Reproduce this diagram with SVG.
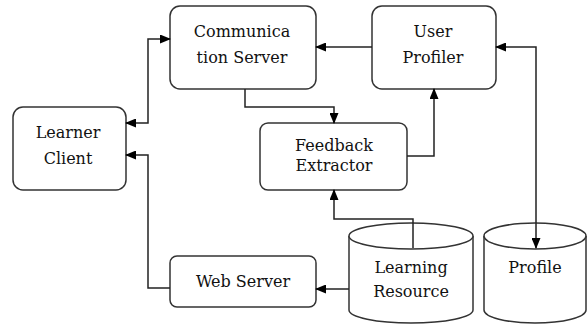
<svg xmlns="http://www.w3.org/2000/svg" width="587" height="325" viewBox="0 0 587 325">
<style>
.box{fill:#fff;stroke:#333;stroke-width:1.5}
.cyl{fill:#fff;stroke:#333;stroke-width:1.5}
.t{font-family:"DejaVu Serif","Liberation Serif",serif;font-size:16px;fill:#111;text-anchor:middle}
.c{fill:none;stroke:#222;stroke-width:1.5}
</style>
<defs>
<marker id="ah" markerUnits="userSpaceOnUse" markerWidth="11" markerHeight="9" refX="10" refY="4.5" orient="auto-start-reverse" viewBox="0 0 11 9">
<path d="M0,0 L11,4.5 L0,9 z" fill="#000"/>
</marker>
</defs>
<rect width="587" height="325" fill="#fff"/>
<g id="comm">
<rect class="box" x="170" y="6" width="146" height="83" rx="10"/>
<text class="t" x="242" y="37">Communica</text>
<text class="t" x="242" y="63">tion Server</text>
</g>
<g id="userprofiler">
<rect class="box" x="372" y="6" width="124" height="83" rx="10"/>
<text class="t" x="433" y="37">User</text>
<text class="t" x="433" y="63">Profiler</text>
</g>
<g id="learner">
<rect class="box" x="13" y="107" width="113" height="83" rx="10"/>
<text class="t" x="68" y="138">Learner</text>
<text class="t" x="68" y="164">Client</text>
</g>
<g id="feedback">
<rect class="box" x="260" y="123" width="147" height="67" rx="8"/>
<text class="t" x="334" y="151">Feedback</text>
<text class="t" x="334" y="171">Extractor</text>
</g>
<g id="webserver">
<rect class="box" x="170" y="256" width="146" height="51" rx="7"/>
<text class="t" x="243" y="287">Web Server</text>
</g>
<g id="learningresource">
<path class="cyl" d="M349,236 V310 A62,13 0 0 0 473,310 V236 A62,13 0 0 0 349,236 Z"/>
<path class="cyl" d="M349,236 A62,13 0 0 0 473,236"/>
<text class="t" x="411" y="273">Learning</text>
<text class="t" x="411" y="297">Resource</text>
</g>
<g id="profile">
<path class="cyl" d="M484,236 V310 A51,13 0 0 0 586,310 V236 A51,13 0 0 0 484,236 Z"/>
<path class="cyl" d="M484,236 A51,13 0 0 0 586,236"/>
<text class="t" x="535" y="273">Profile</text>
</g>
<g id="connectors">
<path class="c" d="M126,123 H148 V39 H170" marker-start="url(#ah)" marker-end="url(#ah)"/>
<path class="c" d="M170,288 H148 V155 H126" marker-end="url(#ah)"/>
<path class="c" d="M372,47 H316" marker-end="url(#ah)"/>
<path class="c" d="M245,89 V107 H334 V123" marker-end="url(#ah)"/>
<path class="c" d="M407,156 H434 V89" marker-end="url(#ah)"/>
<path class="c" d="M413,248 V219 H334 V190" marker-end="url(#ah)"/>
<path class="c" d="M349,289 H316" marker-end="url(#ah)"/>
<path class="c" d="M496,47 H536 V248" marker-start="url(#ah)" marker-end="url(#ah)"/>
</g>
</svg>
